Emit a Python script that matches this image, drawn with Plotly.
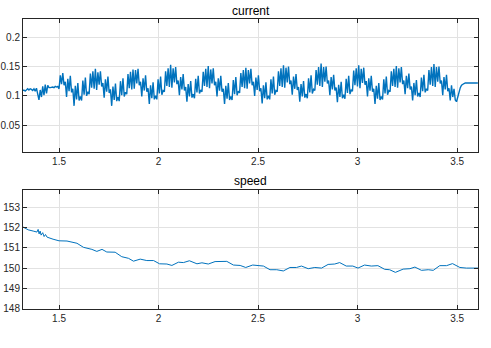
import numpy as np
import plotly.graph_objects as go

# ---------------- data ----------------
# current: sampled on a uniform time grid (start time, step)
current_t0 = 1.3173
current_dt = 0.0063
current_pre = [0.109, 0.110, 0.108, 0.111, 0.112, 0.110, 0.112, 0.111, 0.109, 0.112,
               0.108, 0.113, 0.104, 0.093, 0.110, 0.098, 0.116, 0.101, 0.119, 0.104,
               0.118, 0.114, 0.114, 0.115, 0.115, 0.114, 0.116, 0.115, 0.116]
current_main = [
    # 1.50
    0.112, 0.135, 0.120, 0.139, 0.118, 0.124, 0.098, 0.129, 0.108, 0.134, 0.106, 0.112,
    0.083, 0.117, 0.094, 0.122, 0.092, 0.099, 0.092, 0.126, 0.102, 0.131, 0.100, 0.107,
    0.103, 0.138, 0.114, 0.142, 0.112, 0.146,
    # 1.69
    0.110, 0.140, 0.119, 0.142, 0.116, 0.122, 0.097, 0.128, 0.107, 0.133, 0.105, 0.111,
    0.083, 0.116, 0.093, 0.121, 0.091, 0.098, 0.091, 0.125, 0.101, 0.130, 0.099, 0.106,
    0.103, 0.137, 0.113, 0.141, 0.111, 0.145,
    # 1.88
    0.112, 0.144, 0.121, 0.146, 0.118, 0.124, 0.099, 0.130, 0.109, 0.135, 0.107, 0.113,
    0.086, 0.118, 0.096, 0.123, 0.094, 0.100, 0.094, 0.128, 0.104, 0.133, 0.102, 0.109,
    0.107, 0.142, 0.117, 0.147, 0.115, 0.153,
    # 2.07
    0.114, 0.147, 0.123, 0.149, 0.120, 0.126, 0.101, 0.132, 0.111, 0.137, 0.109, 0.115,
    0.090, 0.120, 0.099, 0.125, 0.097, 0.103, 0.096, 0.129, 0.106, 0.134, 0.104, 0.110,
    0.107, 0.141, 0.117, 0.146, 0.115, 0.151,
    # 2.26
    0.113, 0.145, 0.121, 0.147, 0.118, 0.124, 0.099, 0.130, 0.109, 0.134, 0.107, 0.112,
    0.086, 0.117, 0.095, 0.122, 0.093, 0.099, 0.093, 0.127, 0.103, 0.132, 0.101, 0.108,
    0.105, 0.139, 0.115, 0.144, 0.113, 0.148,
    # 2.45
    0.112, 0.144, 0.121, 0.146, 0.118, 0.124, 0.100, 0.131, 0.110, 0.135, 0.108, 0.113,
    0.087, 0.118, 0.096, 0.123, 0.094, 0.100, 0.094, 0.128, 0.104, 0.133, 0.102, 0.109,
    0.107, 0.142, 0.117, 0.147, 0.115, 0.152,
    # 2.63
    0.114, 0.148, 0.123, 0.150, 0.120, 0.126, 0.102, 0.133, 0.112, 0.137, 0.110, 0.115,
    0.090, 0.120, 0.099, 0.125, 0.097, 0.103, 0.096, 0.130, 0.106, 0.135, 0.104, 0.111,
    0.109, 0.144, 0.119, 0.149, 0.117, 0.155,
    # 2.82
    0.115, 0.149, 0.124, 0.150, 0.121, 0.126, 0.101, 0.132, 0.111, 0.136, 0.109, 0.114,
    0.089, 0.119, 0.098, 0.124, 0.096, 0.102, 0.095, 0.129, 0.105, 0.134, 0.103, 0.110,
    0.108, 0.143, 0.118, 0.147, 0.116, 0.152,
    # 3.01
    0.113, 0.146, 0.122, 0.148, 0.119, 0.125, 0.099, 0.130, 0.109, 0.134, 0.107, 0.112,
    0.086, 0.117, 0.095, 0.122, 0.093, 0.099, 0.094, 0.128, 0.104, 0.133, 0.102, 0.109,
    0.107, 0.142, 0.117, 0.146, 0.115, 0.151,
    # 3.20
    0.114, 0.147, 0.123, 0.149, 0.120, 0.126, 0.103, 0.134, 0.113, 0.138, 0.111, 0.116,
    0.092, 0.122, 0.101, 0.127, 0.099, 0.105, 0.098, 0.131, 0.108, 0.136, 0.106, 0.112,
    0.109, 0.144, 0.119, 0.149, 0.117, 0.154,
    # 3.39
    0.115, 0.149, 0.124, 0.150, 0.121, 0.126, 0.101, 0.132, 0.111, 0.136, 0.108, 0.113,
    0.092, 0.118, 0.098, 0.112, 0.093, 0.090,
]
current_post = [0.098, 0.108, 0.114, 0.118, 0.120, 0.121, 0.122, 0.122, 0.122, 0.122,
                0.122, 0.122, 0.122, 0.122, 0.122, 0.122, 0.122]

speed_t = [1.317, 1.322, 1.345, 1.370, 1.389, 1.395, 1.400, 1.405, 1.410, 1.418, 1.425,
           1.432, 1.440, 1.470, 1.500, 1.540, 1.590, 1.623, 1.665, 1.690, 1.716, 1.740,
           1.782, 1.815, 1.849, 1.874, 1.908, 1.941, 1.975, 2.005, 2.042, 2.067, 2.100,
           2.125, 2.155, 2.193, 2.218, 2.250, 2.284, 2.343, 2.376, 2.410, 2.438, 2.473,
           2.527, 2.560, 2.594, 2.627, 2.660, 2.693, 2.718, 2.752, 2.785, 2.819, 2.852,
           2.885, 2.910, 2.943, 2.976, 3.002, 3.035, 3.069, 3.102, 3.136, 3.161, 3.190,
           3.229, 3.263, 3.288, 3.321, 3.355, 3.380, 3.413, 3.447, 3.477, 3.514, 3.547,
           3.605]
speed_v = [152.03, 152.01, 151.88, 151.82, 151.77, 151.90, 151.68, 151.82, 151.62, 151.74,
           151.55, 151.65, 151.52, 151.42, 151.34, 151.33, 151.22, 151.02, 150.92, 150.82,
           150.92, 150.79, 150.78, 150.56, 150.48, 150.34, 150.44, 150.37, 150.37, 150.21,
           150.20, 150.13, 150.29, 150.27, 150.36, 150.21, 150.26, 150.20, 150.32, 150.33,
           150.15, 150.13, 150.03, 150.15, 150.10, 149.92, 149.92, 149.86, 150.03, 150.03,
           150.10, 149.97, 150.03, 150.00, 150.18, 150.20, 150.27, 150.10, 150.10, 150.00,
           150.15, 150.10, 150.12, 149.94, 149.92, 149.79, 149.95, 149.97, 150.05, 149.89,
           149.92, 149.89, 150.12, 150.12, 150.22, 150.03, 150.00, 150.00]

x_ticks = [1.5, 2, 2.5, 3, 3.5]
x_labels = ["1.5", "2", "2.5", "3", "3.5"]
cur_ticks = [0.05, 0.1, 0.15, 0.2]
cur_labels = ["0.05", "0.1", "0.15", "0.2"]
spd_ticks = [148, 149, 150, 151, 152, 153]
spd_labels = ["148", "149", "150", "151", "152", "153"]
x_range = [1.319, 3.605]
cur_range = [0.0047, 0.2314]
spd_range = [148, 153.84]

# ---------------- figure ----------------
current_v = current_pre + current_main + current_post
current_t = current_t0 + np.arange(len(current_v)) * current_dt

W, H = 491, 348
blue = "#0072BD"
axc = "#262626"
gridc = "#e2e2e2"
font = dict(family="Liberation Sans, Arial, Helvetica, sans-serif", size=10, color=axc)

fig = go.Figure()
fig.add_trace(go.Scatter(x=current_t, y=current_v, mode="lines",
                         line=dict(color=blue, width=1.4), xaxis="x", yaxis="y",
                         showlegend=False, hoverinfo="skip"))
fig.add_trace(go.Scatter(x=speed_t, y=speed_v, mode="lines",
                         line=dict(color=blue, width=1), xaxis="x2", yaxis="y2",
                         showlegend=False, hoverinfo="skip"))

def dom(top_px, bot_px):
    return [1 - bot_px / H, 1 - top_px / H]

common_ax = dict(showline=True, linecolor=axc, linewidth=1, mirror="ticks",
                 ticks="inside", ticklen=4, tickcolor=axc, tickwidth=1,
                 showgrid=True, gridcolor=gridc, gridwidth=1, zeroline=False,
                 tickfont=font, fixedrange=True)

fig.update_layout(
    width=W, height=H,
    margin=dict(l=23, r=13, t=0, b=0),
    paper_bgcolor="white", plot_bgcolor="white",
    xaxis=dict(domain=[0, 1], range=x_range, tickvals=x_ticks, ticktext=x_labels,
               anchor="y", **common_ax),
    yaxis=dict(domain=dom(19, 154), range=cur_range, tickvals=cur_ticks,
               ticktext=cur_labels, anchor="x", **common_ax),
    xaxis2=dict(domain=[0, 1], range=x_range, tickvals=x_ticks, ticktext=x_labels,
                anchor="y2", **common_ax),
    yaxis2=dict(domain=dom(192.7, 313.3), range=spd_range, tickvals=spd_ticks,
                ticktext=spd_labels, anchor="x2", **common_ax),
    annotations=[
        dict(text="current", x=0.5, xref="paper", y=1 - 11 / H, yref="paper",
             showarrow=False, font=dict(family=font["family"], size=12, color="#000"),
             xanchor="center", yanchor="middle"),
        dict(text="speed", x=0.5, xref="paper", y=1 - 184 / H, yref="paper",
             showarrow=False, font=dict(family=font["family"], size=12, color="#000"),
             xanchor="center", yanchor="middle"),
    ],
)

fig.write_html("out.html")
